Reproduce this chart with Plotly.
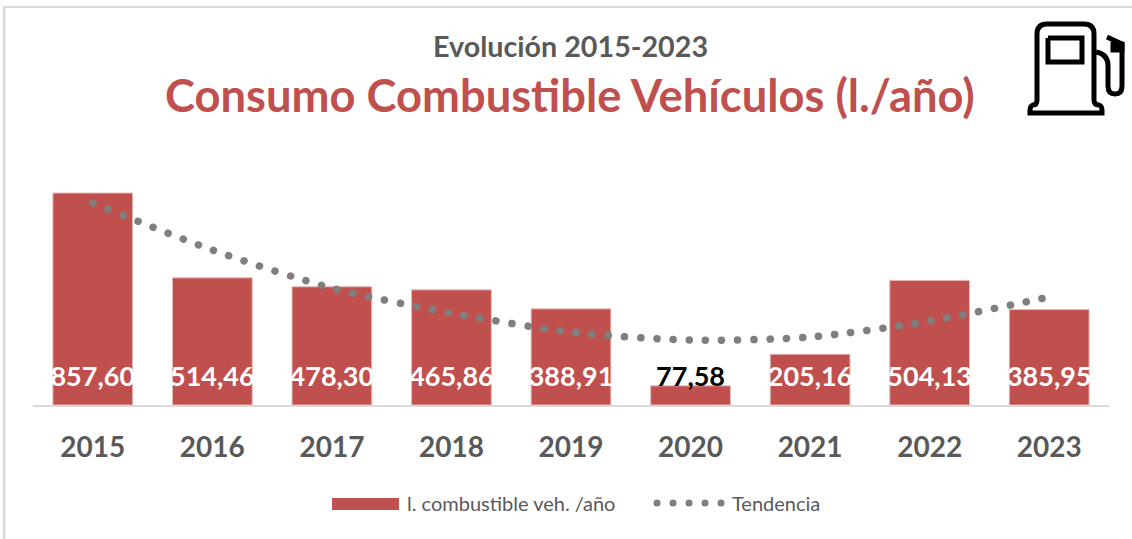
import plotly.graph_objects as go

years = ["2015", "2016", "2017", "2018", "2019", "2020", "2021", "2022", "2023"]
consumo = [857.60, 514.46, 478.30, 465.86, 388.91, 77.58, 205.16, 504.13, 385.95]
etiquetas = ["857,60", "514,46", "478,30", "465,86", "388,91", "77,58", "205,16", "504,13", "385,95"]
tendencia = [817, 627, 473, 372, 295, 263, 275, 340, 437]
label_colors = ["white"] * 5 + ["black"] + ["white"] * 3
label_level = 104

W, H = 1132, 539
RED = "#C0504D"
GREY = "#7F7F7F"
TEXT = "#595959"
FONT = "Lato"

def px(x):
    return x / W
def py(y):
    return 1 - y / H

fig = go.Figure()
fig.add_bar(x=years, y=consumo, name="l. combustible veh. /año",
            marker=dict(color=RED, line=dict(color="#E6B9B8", width=1)),
            width=0.667, showlegend=False)
fig.add_scatter(x=years, y=tendencia, mode="lines", name="Tendencia",
                line=dict(color=GREY, width=7.5, dash="0.1px,16.1px", shape="spline", smoothing=0.8), showlegend=False)
fig.add_scatter(x=years, y=[label_level] * len(years), mode="text", text=etiquetas, textposition="middle center",
                textfont=dict(family=FONT, size=27, color=label_colors, weight="bold"),
                showlegend=False, cliponaxis=False, hoverinfo="skip")

fig.update_layout(
    width=W, height=H, margin=dict(l=0, r=0, t=0, b=0), paper_bgcolor="white", plot_bgcolor="white",
    bargap=0.33, showlegend=False,
    xaxis=dict(domain=[px(33), px(1109)], range=[-0.5, 8.5], type="category", showgrid=False, showline=True,
               linecolor="#D9D9D9", linewidth=2, ticks="", anchor="y",
               tickfont=dict(family=FONT, size=28, color=TEXT, weight="bold"), automargin=False, ticklabelstandoff=16),
    yaxis=dict(domain=[py(405), py(140)], range=[0, 1072], visible=False),
)

ann = [
    dict(x=px(570.5), y=py(46), text="<b>Evolución 2015-2023</b>", font=dict(family=FONT, size=28.7, color=TEXT)),
    dict(x=px(570), y=py(95), text="<b>Consumo Combustible Vehículos (l./año)</b>", font=dict(family=FONT, size=45.3, color=RED)),
    dict(x=px(405), y=py(503), text="l. combustible veh. /año", xanchor="left", font=dict(family=FONT, size=20, color=TEXT)),
    dict(x=px(730), y=py(503), text="Tendencia", xanchor="left", font=dict(family=FONT, size=20, color=TEXT)),
]
for a in ann:
    a.update(xref="paper", yref="paper", showarrow=False, xanchor=a.get("xanchor", "center"), yanchor="middle")
    fig.add_annotation(**a)

def rect(x0, y0, x1, y1, **kw):
    fig.add_shape(type="rect", xref="paper", yref="paper", x0=px(x0), x1=px(x1), y0=py(y0), y1=py(y1), layer="above", **kw)

# chart frame
rect(3, 6, 5.5, 539, fillcolor="#D9D9D9", line_width=0)
rect(3, 6, 1132, 8, fillcolor="#D9D9D9", line_width=0)
# legend
rect(332, 498, 399, 510, fillcolor=RED, line_width=0)
for cx in [657, 673, 689, 705, 721]:
    fig.add_shape(type="circle", xref="paper", yref="paper", x0=px(cx-3.5), x1=px(cx+3.5),
                  y0=py(503+3.5), y1=py(503-3.5), fillcolor=GREY, line_width=0)

def path(cmds):
    out = []
    for c, *pts in cmds:
        out.append(c + " ".join(f"{px(x):.5f},{py(y):.5f}" for x, y in pts))
    return " ".join(out)

# fuel pump icon: body with flared base, window, hose and nozzle
icon = dict(xref="paper", yref="paper", type="path", line=dict(color="black", width=5))
outline = [("M", (1037, 100)), ("L", (1037, 34)), ("Q", (1037, 24), (1047, 24)), ("L", (1084, 24)),
           ("Q", (1094, 24), (1094, 34)), ("L", (1094, 100)), ("Q", (1094, 105), (1099, 105)),
           ("Q", (1102, 106), (1102, 110)), ("L", (1102, 113)), ("L", (1030, 113)), ("L", (1030, 110)),
           ("Q", (1030, 106), (1033, 105)), ("Q", (1037, 105), (1037, 100))]
fig.add_shape(path=path(outline), **icon)
window = [("M", (1048, 38)), ("L", (1082, 38)), ("L", (1082, 62)), ("L", (1048, 62)), ("L", (1048, 38))]
fig.add_shape(path=path(window), **icon)
hose = [("M", (1096, 52)), ("Q", (1108, 54), (1108, 66)), ("L", (1108, 86)),
        ("Q", (1108, 94), (1115, 94)), ("Q", (1122, 94), (1122, 86)), ("L", (1122, 44)), ("L", (1107, 37))]
fig.add_shape(path=path(hose), **icon)
nozzle = [("M", (1113, 42)), ("L", (1113, 50)), ("L", (1122, 50)), ("L", (1122, 44)), ("L", (1113, 42))]
fig.add_shape(path=path(nozzle), fillcolor="black", **icon)

fig.write_html("out.html", config={"displayModeBar": False}, post_script="""
document.body.style.margin='0';
var gd=document.querySelector('.plotly-graph-div');
gd.querySelectorAll('.scatterlayer .js-line').forEach(function(p){p.style.strokeLinecap='round';});
""")
